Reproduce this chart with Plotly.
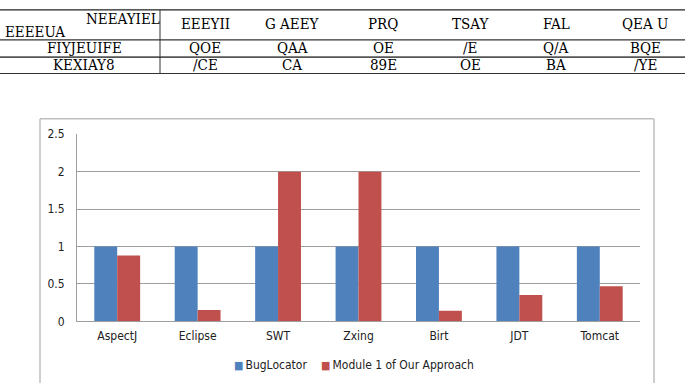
import plotly.graph_objects as go

W, H = 685, 390

# ---- chart data ----
categories = ["AspectJ", "Eclipse", "SWT", "Zxing", "Birt", "JDT", "Tomcat"]
buglocator = [1, 1, 1, 1, 1, 1, 1]
module1 = [0.88, 0.15, 2, 2, 0.14, 0.35, 0.47]
series_names = ["BugLocator", "Module 1 of Our Approach"]
y_ticks = [0, 0.5, 1, 1.5, 2, 2.5]
y_tick_labels = ["0", "0.5", "1", "1.5", "2", "2.5"]

# ---- table text (as rendered in the reference) ----
table_corner_top = "NEEAYIEL"
table_corner_bottom = "EEEEUA"
table_header = ["EEEYII", "G AEEY", "PRQ", "TSAY", "FAL", "QEA U"]
table_row_labels = ["FIYJEUIFE", "KEXIAY8"]
table_row1 = ["QOE", "QAA", "OE", "/E", "Q/A", "BQE"]
table_row2 = ["/CE", "CA", "89E", "OE", "BA", "/YE"]

BLUE = "#4F81BD"
RED = "#C0504D"
FONT = "DejaVu Sans Condensed, DejaVu Sans, sans-serif"
TFONT = "DejaVu Serif Condensed, DejaVu Serif, serif"


def px(x):
    return x / W


def py(y):
    return 1 - y / H


fig = go.Figure()
fig.add_trace(go.Bar(x=categories, y=buglocator, name=series_names[0],
                     marker=dict(color=BLUE, line=dict(width=0)), showlegend=False))
fig.add_trace(go.Bar(x=categories, y=module1, name=series_names[1],
                     marker=dict(color=RED, line=dict(width=0)), showlegend=False))

shapes = []
annotations = []

# chart outer frame (bottom edge lies outside the visible area)
frame = dict(color="#BFBFBF", width=1.5)
shapes.append(dict(type="line", xref="paper", yref="paper", x0=px(40), x1=px(40),
                   y0=0, y1=py(116), line=frame, layer="below"))
shapes.append(dict(type="line", xref="paper", yref="paper", x0=px(654), x1=px(654),
                   y0=0, y1=py(116), line=frame, layer="below"))
shapes.append(dict(type="line", xref="paper", yref="paper", x0=px(40), x1=px(654),
                   y0=py(116), y1=py(116), line=frame, layer="below"))

# table lines
for y, c, w in [(3, "#222", 1.2), (34, "#333", 1.3), (52, "#555", 1.6), (69, "#333", 1.2)]:
    shapes.append(dict(type="line", xref="paper", yref="paper",
                       x0=0, x1=1, y0=py(y), y1=py(y), line=dict(color=c, width=w)))
shapes.append(dict(type="line", xref="paper", yref="paper",
                   x0=px(160), x1=px(160), y0=py(3), y1=py(69),
                   line=dict(color="#333", width=1)))

tf = dict(family=TFONT, size=15, color="black")


def tann(text, x, y, xanchor="center"):
    annotations.append(dict(text=text, x=px(x), y=py(y), xref="paper", yref="paper",
                            xanchor=xanchor, yanchor="middle", showarrow=False, font=tf,
                            borderpad=0))


tann(table_corner_top, 161, 12, "right")
tann(table_corner_bottom, 4, 26, "left")
col_x = [205, 292, 383, 470, 556, 645]
for cx, t in zip(col_x, table_header):
    tann(t, cx, 18)
for (ry, label, row) in [(42.5, table_row_labels[0], table_row1),
                         (60.5, table_row_labels[1], table_row2)]:
    tann(label, 84, ry)
    for cx, t in zip(col_x, row):
        tann(t, cx, ry)

# legend (drawn as text with colored squares)
lf = dict(family=FONT, size=12, color="#222")
annotations.append(dict(text=f"<span style='color:{BLUE};font-size:11px'>■</span>\u2009{series_names[0]}",
                        x=px(232), y=py(371), xref="paper", yref="paper",
                        xanchor="left", yanchor="middle", showarrow=False, font=lf))
annotations.append(dict(text=f"<span style='color:{RED};font-size:11px'>■</span>\u2009{series_names[1]}",
                        x=px(319), y=py(371), xref="paper", yref="paper",
                        xanchor="left", yanchor="middle", showarrow=False, font=lf))

fig.update_layout(
    width=W, height=H,
    margin=dict(l=0, r=0, t=0, b=0),
    paper_bgcolor="white", plot_bgcolor="white",
    barmode="group", bargap=0.43, bargroupgap=0,
    showlegend=False,
    shapes=shapes, annotations=annotations,
    font=dict(family=FONT, size=12, color="#222"),
    xaxis=dict(domain=[px(77), px(640)], range=[-0.5, 6.5], anchor="y",
               showgrid=False, showline=True, linecolor="#9E9E9E", linewidth=1,
               ticks="", ticklabelstandoff=3,
               tickfont=dict(family=FONT, size=12, color="#222")),
    yaxis=dict(domain=[py(326), py(132)], range=[0, 2.5], anchor="x",
               tickvals=y_ticks, ticktext=y_tick_labels,
               showgrid=True, gridcolor="#9E9E9E", gridwidth=1,
               showline=True, linecolor="#9E9E9E", linewidth=1,
               zeroline=False, ticks="", ticklabelstandoff=9,
               tickfont=dict(family=FONT, size=12, color="#222")),
)

fig.write_html("out.html")
